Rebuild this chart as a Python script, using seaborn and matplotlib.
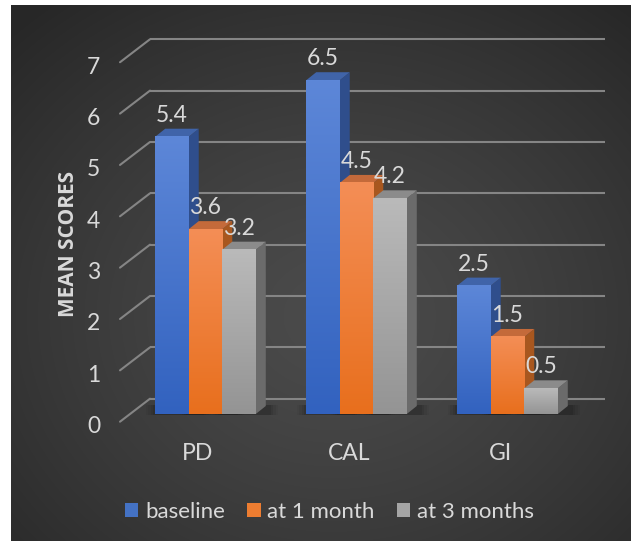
import numpy as np
import pandas as pd
import matplotlib
matplotlib.use("Agg")
import matplotlib.pyplot as plt
import seaborn as sns
from matplotlib.colors import LinearSegmentedColormap
from matplotlib.patches import Polygon
from matplotlib.transforms import ScaledTranslation

# ---- data -------------------------------------------------------------
metrics = ["PD", "CAL", "GI"]
periods = ["baseline", "at 1 month", "at 3 months"]
baseline = [5.4, 6.5, 2.5]
month1 = [3.6, 4.5, 1.5]
month3 = [3.2, 4.2, 0.5]
y_ticks = [0, 1, 2, 3, 4, 5, 6, 7]

# ---- colours ------------------------------------------------------------
mid_col = ["#4472C4", "#ED7D31", "#A5A5A5"]
front_top = ["#5d87d8", "#f48e56", "#bababa"]
front_bottom = ["#3262bf", "#e86f1d", "#949494"]
side_col = ["#2f4e8c", "#a8571f", "#6b6b6b"]
top_col = ["#4064a9", "#c46a3a", "#8b8b8b"]
TEXT = "#d9d9d9"
GRID = "#858585"

sns.set_theme(style="dark")
plt.rcParams["font.family"] = ["Lato", "DejaVu Sans"]

W, H = 631, 541
FS = 16.5
fig = plt.figure(figsize=(W / 100, H / 100), dpi=100)
fig.patch.set_facecolor("white")

# ---- dark radial backdrop ---------------------------------------------
bg = fig.add_axes([11 / W, 0, (W - 11) / W, (H - 5) / H], zorder=-10)
bh, bw = 536, 620
yy, xx = np.mgrid[0:bh, 0:bw]
cx, cy = 0.52 * bw, 0.58 * bh
r = np.sqrt(((xx - cx) / bw) ** 2 + ((yy - cy) / bh) ** 2)
r = np.clip(r / 0.75, 0, 1)
c_in = np.array([0x4b, 0x4b, 0x4b]) / 255
c_out = np.array([0x27, 0x27, 0x27]) / 255
img = c_in + (c_out - c_in) * (r[..., None] ** 1.3)
bg.imshow(img, aspect="auto", extent=[0, 1, 0, 1])
bg.axis("off")

# ---- main axes (front plane of the bars) -------------------------------
ax = fig.add_axes([130 / W, (H - 414) / H, 453 / W, 359.45 / H])
ax.set_facecolor("none")

df = pd.DataFrame({
    "metric": metrics * 3,
    "period": np.repeat(periods, len(metrics)),
    "score": baseline + month1 + month3,
})
sns.barplot(data=df, x="metric", y="score", hue="period", hue_order=periods,
            palette=mid_col, saturation=1, width=0.666, errorbar=None,
            linewidth=0, ax=ax)

ax.set_xlim(-0.5, 2.5)
ax.set_ylim(0, 7)

# depth offsets (data units)
DX, DY = 10 / 151, 8 / 51.35          # bar depth
BX, BY = 20 / 151, 15.3 / 51.35       # back wall
TX, TY = 10 / 151, 7.7 / 51.35        # front edge of the floor

# back wall grid and side-wall diagonals
for v in y_ticks:
    ax.plot([-0.5 + BX, 2.5 + BX + 0.01], [v + BY, v + BY], color=GRID,
            lw=1.5, zorder=1, clip_on=False, solid_capstyle="butt")
    ax.plot([-0.5 - TX, -0.5 + BX], [v - TY, v + BY], color=GRID,
            lw=1.5, zorder=1, clip_on=False)

# 3D faces and gradient fronts
grad = np.linspace(0, 1, 256).reshape(-1, 1)
for h, cont in enumerate(ax.containers):
    cmap = LinearSegmentedColormap.from_list(f"g{h}", [front_bottom[h], front_top[h]])
    for bar in cont:
        x0, w, y1 = bar.get_x(), bar.get_width(), bar.get_height()
        # soft floor shadow
        for k, a in enumerate([0.04, 0.05, 0.07, 0.09]):
            e = 0.06 - k * 0.015
            ax.add_patch(Polygon([(x0 - e, -0.02), (x0 + w + DX + e + 0.02, -0.02),
                                  (x0 + w + DX + e + 0.02, DY + 0.02), (x0 - e, DY + 0.02)],
                                 closed=True, facecolor="black", alpha=a,
                                 edgecolor="none", zorder=1.5, clip_on=False))
        side = Polygon([(x0 + w, 0), (x0 + w + DX, DY), (x0 + w + DX, y1 + DY), (x0 + w, y1)],
                       closed=True, facecolor=side_col[h], edgecolor="none",
                       zorder=2 + 2 * h, clip_on=False)
        top = Polygon([(x0, y1), (x0 + DX, y1 + DY), (x0 + w + DX, y1 + DY), (x0 + w, y1)],
                      closed=True, facecolor=top_col[h], edgecolor="none",
                      zorder=2 + 2 * h, clip_on=False)
        ax.add_patch(side)
        ax.add_patch(top)
        bar.set_zorder(3 + 2 * h)
        bar.set_clip_on(False)
        im = ax.imshow(grad, extent=[x0, x0 + w, 0, y1], origin="lower",
                       cmap=cmap, aspect="auto", zorder=3 + 2 * h + 0.1,
                       clip_on=False)
        im.set_clip_path(bar)
    ax.bar_label(cont, labels=[f"{b.get_height():.1f}" for b in cont],
                 padding=8, color=TEXT, fontsize=FS, zorder=20)

ax.set_xlim(-0.5, 2.5)
ax.set_ylim(0, 7)
ax.set_yticks(y_ticks)
ax.set_xlabel("")
ax.set_ylabel("MEAN SCORES", fontsize=15, fontweight="bold", color=TEXT,
              family=["Open Sans", "DejaVu Sans"])
ax.yaxis.set_label_coords(-0.113, 0.473)
for s in ax.spines.values():
    s.set_visible(False)
ax.grid(False)
ax.tick_params(axis="both", length=0, colors=TEXT, labelsize=FS)
ax.tick_params(axis="y", pad=21.5)
ax.tick_params(axis="x", pad=21)

fig.canvas.draw()
y_off = ScaledTranslation(0, -10.5 / 100, fig.dpi_scale_trans)
for lab in ax.get_yticklabels():
    lab.set_transform(lab.get_transform() + y_off)
x_off = ScaledTranslation(-7.5 / 100, 0, fig.dpi_scale_trans)
for lab in ax.get_xticklabels():
    lab.set_transform(lab.get_transform() + x_off)

sns.move_legend(ax, loc="center", bbox_to_anchor=(329.5 / W, 29 / H),
                bbox_transform=fig.transFigure, ncol=3, frameon=False,
                title=None, handlelength=0.6, handleheight=0.6,
                handletextpad=0.3, columnspacing=1.0, fontsize=16,
                labelcolor=TEXT)

fig.savefig("out.png", dpi=100)
